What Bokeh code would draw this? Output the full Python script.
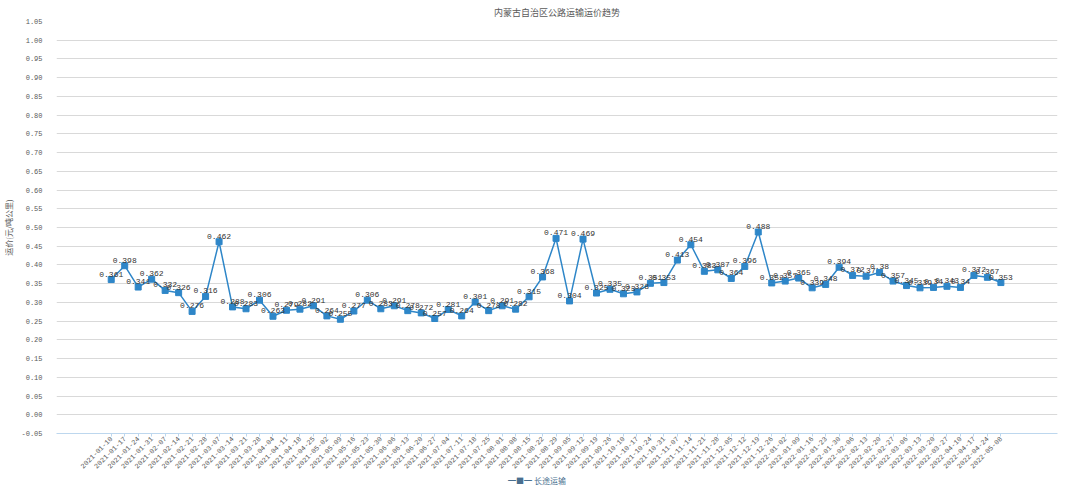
from bokeh.plotting import figure
from bokeh.models import ColumnDataSource, FixedTicker, Range1d, PrintfTickFormatter, Title, AllLabels
from bokeh.core.properties import value
from bokeh.embed import file_html
from bokeh.resources import INLINE
import math

dates = [
    "2021-01-10", "2021-01-17", "2021-01-24", "2021-01-31", "2021-02-07", "2021-02-14", "2021-02-21", "2021-02-28",
    "2021-03-07", "2021-03-14", "2021-03-21", "2021-03-28", "2021-04-04", "2021-04-11", "2021-04-18", "2021-04-25",
    "2021-05-02", "2021-05-09", "2021-05-16", "2021-05-23", "2021-05-30", "2021-06-06", "2021-06-13", "2021-06-20",
    "2021-06-27", "2021-07-04", "2021-07-11", "2021-07-18", "2021-07-25", "2021-08-01", "2021-08-08", "2021-08-15",
    "2021-08-22", "2021-08-29", "2021-09-05", "2021-09-12", "2021-09-19", "2021-09-26", "2021-10-10", "2021-10-17",
    "2021-10-24", "2021-10-31", "2021-11-07", "2021-11-14", "2021-11-21", "2021-11-28", "2021-12-05", "2021-12-12",
    "2021-12-19", "2021-12-26", "2022-01-02", "2022-01-09", "2022-01-16", "2022-01-23", "2022-01-30", "2022-02-06",
    "2022-02-13", "2022-02-20", "2022-02-27", "2022-03-06", "2022-03-13", "2022-03-20", "2022-03-27", "2022-04-10",
    "2022-04-17", "2022-04-24", "2022-05-08",
]
prices = [
    0.361, 0.398, 0.341, 0.362, 0.332, 0.326, 0.276, 0.316,
    0.462, 0.288, 0.283, 0.306, 0.263, 0.279, 0.282, 0.291,
    0.264, 0.255, 0.277, 0.306, 0.283, 0.291, 0.278, 0.272,
    0.257, 0.281, 0.264, 0.301, 0.278, 0.291, 0.282, 0.315,
    0.368, 0.471, 0.304, 0.469, 0.325, 0.335, 0.323, 0.328,
    0.351, 0.353, 0.413, 0.454, 0.383, 0.387, 0.364, 0.396,
    0.488, 0.352, 0.357, 0.365, 0.339, 0.348, 0.394, 0.372,
    0.37, 0.38, 0.357, 0.345, 0.339, 0.34, 0.343, 0.34,
    0.372, 0.367, 0.353,
]
series_name = "长途运输"
title_text = "内蒙古自治区公路运输运价趋势"
y_title = "运价(元/吨公里)"
y_ticks = [round(-0.05 + 0.05 * i, 2) for i in range(23)]

idx = list(range(len(dates)))
src = ColumnDataSource(dict(x=idx, y=prices, lab=[str(v) for v in prices]))

BLUE = "#2E86C8"
CJK = "Noto Sans CJK SC"
NUM = "Liberation Mono"

p = figure(width=1064, height=488, output_backend="svg", toolbar_location=None,
           x_range=Range1d(-4.06, 70.2), y_range=Range1d(-0.05, 1.05),
           min_border_left=50, min_border_right=7, min_border_top=0, min_border_bottom=20)
p.outline_line_color = None
p.background_fill_color = "white"

t = Title(text=title_text, align="center", text_font=CJK, text_font_size="9px",
          text_color="#595959", text_font_style="normal", standoff=6, offset=0)
p.title = t

line = p.line("x", "y", source=src, color=BLUE, line_width=1.5)
pts = p.scatter("x", "y", source=src, marker="square", size=6, color=BLUE)
p.text("x", "y", text="lab", source=src, text_align="center", text_baseline="bottom",
       y_offset=-3, text_font=value(NUM), text_font_size="8px", text_color="#333333")

xa = p.xaxis[0]
xa.ticker = FixedTicker(ticks=idx)
xa.major_label_overrides = {i: d for i, d in enumerate(dates)}
xa.major_label_policy = AllLabels()
xa.major_label_orientation = math.pi / 4
xa.major_label_text_font = NUM
xa.major_label_text_font_size = "7px"
xa.major_label_text_color = "#595959"
xa.axis_line_color = "#BDD7EE"
xa.major_tick_line_color = "#BDD7EE"
xa.major_tick_out = 3
xa.major_tick_in = 0
xa.minor_tick_line_color = None
xa.major_label_standoff = 1
# series key shown under the date labels, as in the reference
xa.axis_label = "━■━ " + series_name + "\u3000" * 5
xa.axis_label_text_font = CJK
xa.axis_label_text_font_size = "8px"
xa.axis_label_text_font_style = "normal"
xa.axis_label_text_color = "#4A6F8F"
xa.axis_label_standoff = 1

ya = p.yaxis[0]
ya.ticker = FixedTicker(ticks=y_ticks)
ya.formatter = PrintfTickFormatter(format="%.2f")
ya.major_label_text_font = NUM
ya.major_label_text_font_size = "7px"
ya.major_label_text_color = "#595959"
ya.axis_line_color = None
ya.major_tick_line_color = None
ya.minor_tick_line_color = None
ya.major_label_standoff = 8
ya.axis_label = y_title
ya.axis_label_text_font = CJK
ya.axis_label_text_font_size = "8px"
ya.axis_label_text_font_style = "normal"
ya.axis_label_text_color = "#595959"
ya.axis_label_standoff = 4

p.xgrid.grid_line_color = None
p.ygrid.grid_line_color = "#D9D9D9"
p.ygrid.grid_line_width = 1

open("out.html", "w").write(file_html(p, INLINE))
